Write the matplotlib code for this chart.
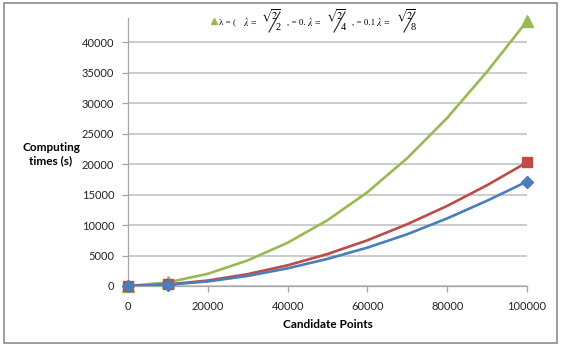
import matplotlib.pyplot as plt
from matplotlib.patches import Rectangle

# values
candidate_points = [0, 10000, 20000, 30000, 40000, 50000, 60000, 70000, 80000, 90000, 100000]
blue_times = [0, 200, 750, 1650, 2900, 4450, 6300, 8500, 11100, 14000, 17150]
red_times = [0, 250, 900, 1950, 3400, 5250, 7500, 10150, 13150, 16550, 20300]
green_times = [0, 600, 2000, 4200, 7100, 10800, 15400, 21000, 27600, 35200, 43500]

marker_points = [0, 10000, 100000]
blue_marks = [0, 200, 17150]
red_marks = [0, 250, 20300]
green_marks = [0, 600, 43500]

x_ticks = [0, 20000, 40000, 60000, 80000, 100000]
y_ticks = [0, 5000, 10000, 15000, 20000, 25000, 30000, 35000, 40000]

BLUE = '#4A7EBB'
RED = '#BE4B48'
GREEN = '#98B954'
GRID = '#BFBFBF'
W, H = 561, 347

plt.rcParams['mathtext.fontset'] = 'stix'
fig = plt.figure(figsize=(W / 100, H / 100), dpi=100)
ax = fig.add_axes([128 / W, 1 - 286 / H, 399 / W, 268 / H])

ax.plot(candidate_points, green_times, color=GREEN, lw=1.9, zorder=3)
ax.plot(marker_points, green_marks, ls='none', marker='^', ms=8, color=GREEN, zorder=3, clip_on=False)
ax.plot(candidate_points, red_times, color=RED, lw=1.9, zorder=4)
ax.plot(marker_points, red_marks, ls='none', marker='s', ms=7, color=RED, zorder=4, clip_on=False)
ax.plot(candidate_points, blue_times, color=BLUE, lw=1.9, zorder=5)
ax.plot(marker_points, blue_marks, ls='none', marker='D', ms=6.5, color=BLUE, zorder=5, clip_on=False)

ax.set_xlim(0, 100000)
ax.set_ylim(0, 44000)
ax.set_xticks(x_ticks)
ax.set_yticks(y_ticks)
ax.set_xticklabels([str(v) for v in x_ticks], fontfamily='Lato', fontsize=8, color='#222222')
ax.set_yticklabels([str(v) for v in y_ticks], fontfamily='Lato', fontsize=8, color='#222222')
ax.grid(axis='y', color=GRID, lw=1.1)
ax.set_axisbelow(True)
for side in ['top', 'right']:
    ax.spines[side].set_visible(False)
for side in ['left', 'bottom']:
    ax.spines[side].set_color('#A6A6A6')
    ax.spines[side].set_linewidth(0.9)
ax.tick_params(axis='both', direction='out', length=4, color='#A6A6A6', width=0.9)
ax.tick_params(axis='y', pad=6)
ax.tick_params(axis='x', pad=7)
ax.patch.set_alpha(0)

ax.set_xlabel('Candidate Points', fontfamily='Lato', fontweight='bold', fontsize=8.5, labelpad=5)
fig.text(51 / W, 1 - 154 / H, 'Computing\ntimes (s)', ha='center', va='center',
         fontfamily='Lato', fontweight='bold', fontsize=8.5, linespacing=1.3)

# garbled legend row at the top
fig.lines.append(plt.Line2D([214 / W], [1 - 21 / H], transform=fig.transFigure, ls='none',
                            marker='^', ms=5, color=GREEN))


def txt(x, y, s, size=6.5):
    fig.text(x / W, 1 - y / H, s, ha='left', va='center', fontsize=size,
             fontfamily='Liberation Serif')


def frac(x, den):
    txt(x, 16, r'$\sqrt{2}$', size=7.5)
    fig.lines.append(plt.Line2D([(x + 8) / W, (x + 19) / W], [1 - 32 / H, 1 - 12 / H],
                                transform=fig.transFigure, color='#222222', lw=0.8))
    txt(x + 15, 28, den, size=7.5)


txt(219, 22, 'λ = (')
txt(243, 22, r'$\lambda$ =', size=7)
frac(261, '2')
txt(287, 23, ', = 0.')
txt(307, 22, r'$\lambda$ =', size=7)
frac(326, '4')
txt(352, 23, ', = 0.1')
txt(376, 22, r'$\lambda$ =', size=7)
frac(396, '8')

fig.patches.append(Rectangle((4 / W, 1 - 343 / H), 553 / W, 340 / H, transform=fig.transFigure,
                             fill=False, edgecolor='#8C8C8C', lw=1.2))

fig.savefig('out.png', dpi=100)
